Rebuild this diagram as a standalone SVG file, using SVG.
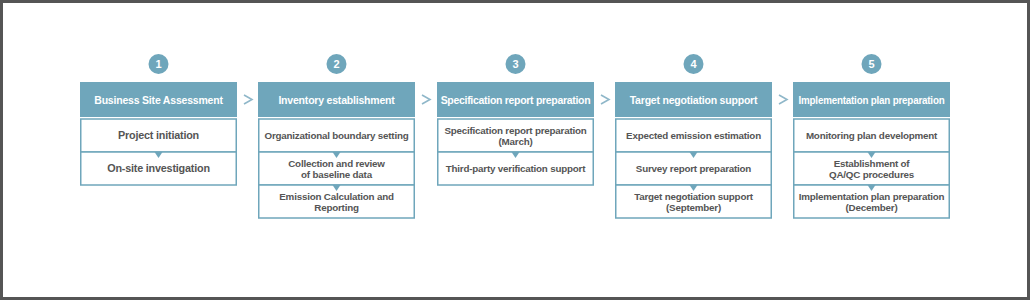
<svg xmlns="http://www.w3.org/2000/svg" width="1030" height="300" viewBox="0 0 1030 300">
<style>
.frame{fill:#fff;stroke:#555;stroke-width:3}
.hd{fill:#6fa6bb}
.num{fill:#6fa6bb}
.sub{fill:#fff;stroke:#6fa6bb;stroke-width:1.5}
.ht{font-family:"Liberation Sans",Arial,sans-serif;font-weight:bold;font-size:10.5px;fill:#fff;text-anchor:middle;letter-spacing:-0.2px}
.nt{font-family:"Liberation Sans",Arial,sans-serif;font-weight:bold;font-size:11px;fill:#fff;text-anchor:middle}
.st{font-family:"Liberation Sans",Arial,sans-serif;font-weight:bold;font-size:9.8px;fill:#555;text-anchor:middle;letter-spacing:-0.2px}
.big{font-size:10.8px}
.chev{fill:none;stroke:#8fb7c9;stroke-width:1.6}
.tri{fill:#6fa6bb}
</style>
<rect class="frame" x="1.5" y="1.5" width="1027" height="297"/>

<g id="step1">
<circle class="num" cx="158.5" cy="64" r="10"/>
<text class="nt" x="158.5" y="68">1</text>
<rect class="hd" x="80" y="82" width="157" height="35"/>
<text class="ht" x="158.5" y="103.5">Business Site Assessment</text>
<rect class="sub" x="80.75" y="119" width="155.5" height="33"/>
<text class="st big" x="158.5" y="139">Project initiation</text>
<rect class="sub" x="80.75" y="152" width="155.5" height="33"/>
<text class="st big" x="158.5" y="172">On-site investigation</text>
</g>

<g id="step2">
<circle class="num" cx="336.5" cy="64" r="10"/>
<text class="nt" x="336.5" y="68">2</text>
<rect class="hd" x="258" y="82" width="157" height="35"/>
<text class="ht" x="336.5" y="103.5">Inventory establishment</text>
<rect class="sub" x="258.75" y="119" width="155.5" height="33"/>
<text class="st" x="336.5" y="139">Organizational boundary setting</text>
<rect class="sub" x="258.75" y="152" width="155.5" height="33"/>
<text class="st" x="336.5" y="166.5">Collection and review</text>
<text class="st" x="336.5" y="177.5">of baseline data</text>
<rect class="sub" x="258.75" y="185" width="155.5" height="33"/>
<text class="st" x="336.5" y="199.5">Emission Calculation and</text>
<text class="st" x="336.5" y="210.5">Reporting</text>
</g>

<g id="step3">
<circle class="num" cx="515.5" cy="64" r="10"/>
<text class="nt" x="515.5" y="68">3</text>
<rect class="hd" x="437" y="82" width="157" height="35"/>
<text class="ht" x="515.5" y="103.5" style="letter-spacing:-0.3px">Specification report preparation</text>
<rect class="sub" x="437.75" y="119" width="155.5" height="33"/>
<text class="st" x="515.5" y="134">Specification report preparation</text>
<text class="st" x="515.5" y="145">(March)</text>
<rect class="sub" x="437.75" y="152" width="155.5" height="33"/>
<text class="st" x="515.5" y="172">Third-party verification support</text>
</g>

<g id="step4">
<circle class="num" cx="693.5" cy="64" r="10"/>
<text class="nt" x="693.5" y="68">4</text>
<rect class="hd" x="615" y="82" width="157" height="35"/>
<text class="ht" x="693.5" y="103.5">Target negotiation support</text>
<rect class="sub" x="615.75" y="119" width="155.5" height="33"/>
<text class="st" x="693.5" y="139">Expected emission estimation</text>
<rect class="sub" x="615.75" y="152" width="155.5" height="33"/>
<text class="st" x="693.5" y="172">Survey report preparation</text>
<rect class="sub" x="615.75" y="185" width="155.5" height="33"/>
<text class="st" x="693.5" y="199.5">Target negotiation support</text>
<text class="st" x="693.5" y="210.5">(September)</text>
</g>

<g id="step5">
<circle class="num" cx="871.5" cy="64" r="10"/>
<text class="nt" x="871.5" y="68">5</text>
<rect class="hd" x="793" y="82" width="157" height="35"/>
<text class="ht" x="871.5" y="103.5" textLength="146" lengthAdjust="spacingAndGlyphs">Implementation plan preparation</text>
<rect class="sub" x="793.75" y="119" width="155.5" height="33"/>
<text class="st" x="871.5" y="139">Monitoring plan development</text>
<rect class="sub" x="793.75" y="152" width="155.5" height="33"/>
<text class="st" x="871.5" y="166.5">Establishment of</text>
<text class="st" x="871.5" y="177.5">QA/QC procedures</text>
<rect class="sub" x="793.75" y="185" width="155.5" height="33"/>
<text class="st" x="871.5" y="199.5">Implementation plan preparation</text>
<text class="st" x="871.5" y="210.5">(December)</text>
</g>

<g id="connectors">
<polyline class="chev" points="244,95 252,99.5 244,104"/>
<polyline class="chev" points="422,95 430,99.5 422,104"/>
<polyline class="chev" points="601,95 609,99.5 601,104"/>
<polyline class="chev" points="779,95 787,99.5 779,104"/>
<polygon class="tri" points="154.5,152 162.5,152 158.5,158"/>
<polygon class="tri" points="332.5,152 340.5,152 336.5,158"/>
<polygon class="tri" points="332.5,185 340.5,185 336.5,191"/>
<polygon class="tri" points="511.5,152 519.5,152 515.5,158"/>
<polygon class="tri" points="689.5,152 697.5,152 693.5,158"/>
<polygon class="tri" points="689.5,185 697.5,185 693.5,191"/>
<polygon class="tri" points="867.5,152 875.5,152 871.5,158"/>
<polygon class="tri" points="867.5,185 875.5,185 871.5,191"/>
</g>
</svg>
